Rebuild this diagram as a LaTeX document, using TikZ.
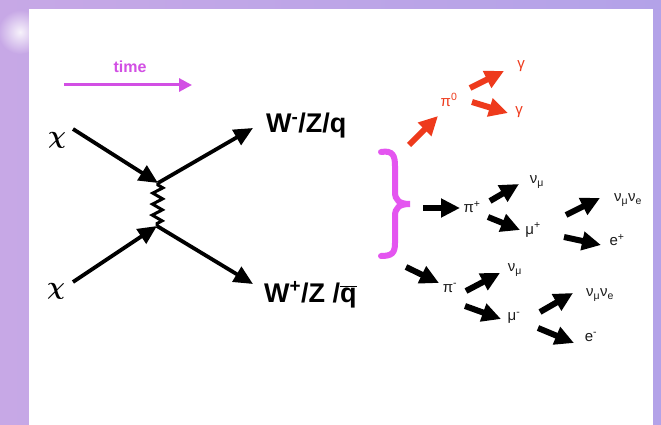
\documentclass[tikz,border=0pt]{standalone}
\usepackage{fontspec}
\setmainfont{Liberation Sans}
\usetikzlibrary{arrows.meta,decorations.pathmorphing}
\definecolor{bgl}{HTML}{C7A8E6}
\definecolor{bgr}{HTML}{B3A2E8}
\definecolor{timemag}{HTML}{D24FE4}
\definecolor{bracemag}{HTML}{E455F0}
\definecolor{redA}{HTML}{EE3A1C}
\definecolor{lab}{HTML}{1A1A1A}
\tikzset{
  mainarrow/.style={line width=3.8pt, -{Triangle[length=19pt,width=17pt]}},
  fatarrow/.style={line width=6pt, -{Triangle[length=19pt,width=18pt]}},
  redarrow/.style={fatarrow, draw=redA},
  wlabel/.style={font=\bfseries\fontsize{27}{27}\selectfont, inner sep=0pt},
  plabel/.style={font=\fontsize{15}{15}\selectfont, text=lab, inner sep=0pt},
  rlabel/.style={font=\fontsize{15}{15}\selectfont, text=redA, inner sep=0pt},
  chilabel/.style={font={\fontsize{40}{40}\selectfont\boldmath}, inner sep=0pt}
}
\begin{document}
\begin{tikzpicture}[x=1pt,y=-1pt]
\useasboundingbox (0,0) rectangle (661,425);
% background
\shade[left color=bgl, right color=bgr] (0,0) rectangle (661,425);
\shade[inner color=white!85!bgl, outer color=bgl] (20,32) circle (22);
\fill[white] (29,9) rectangle (653,425);

% time arrow
\node[font=\bfseries\fontsize{16}{16}\selectfont, text=timemag] (time) at (130,67) {time};
\coordinate (t1) at (64,85);
\coordinate (t2) at (192,85);
\draw[timemag, line width=3pt, -{Triangle[length=13pt,width=13pt]}] (t1) -- (t2);

% Feynman diagram
\node[chilabel] (chi1) at (57,140) {$\chi$};
\node[chilabel] (chi2) at (56,291) {$\chi$};
\coordinate (a1) at (73,129);
\coordinate (a2) at (73,282);
\coordinate (v1) at (158,183);
\coordinate (v2) at (157,226);
\coordinate (b1) at (253,128);
\coordinate (b2) at (253,284);
\draw[mainarrow] (a1) -- (v1);
\draw[mainarrow] (a2) -- (v2);
\draw[mainarrow] (v1) -- (b1);
\draw[mainarrow] (v2) -- (b2);
\draw[line width=3pt, decorate, decoration={zigzag, segment length=11pt, amplitude=5pt, pre length=2pt, post length=2pt}] (v1) -- (v2);
\node[wlabel, anchor=base west] (w1) at (266,133) {W\textsuperscript{-}/Z/q};
\node[wlabel, anchor=base west] (w2) at (264,302) {W\textsuperscript{+}/Z /$\overline{\hbox{q}}$};

% brace
\draw[bracemag, line width=6pt, line cap=round]
  (381,152) .. controls (393,150) and (395,156) .. (395,166) -- (395,192)
  .. controls (395,200) and (399,204) .. (410,204)
  .. controls (399,204) and (395,208) .. (395,216) -- (395,243)
  .. controls (395,253) and (392,256) .. (381,256);

% neutral pion branch
\coordinate (r1s) at (409,145);
\coordinate (r1e) at (438,116);
\node[rlabel] (pi0) at (449,100) {π\textsuperscript{0}};
\coordinate (r2s) at (470,88);
\coordinate (r2e) at (504,71);
\node[rlabel] (g1) at (521,66) {γ};
\coordinate (r3s) at (472,102);
\coordinate (r3e) at (508,113);
\node[rlabel] (g2) at (519,112) {γ};
\draw[redarrow] (r1s) -- (r1e);
\draw[redarrow] (r2s) -- (r2e);
\draw[redarrow] (r3s) -- (r3e);

% positive pion branch
\coordinate (A1s) at (423,208);
\coordinate (A1e) at (460,208);
\node[plabel] (pip) at (472,207) {π\textsuperscript{+}};
\coordinate (A2s) at (490,201);
\coordinate (A2e) at (519,184);
\node[plabel] (num1) at (537,182) {ν\textsubscript{μ}};
\coordinate (A3s) at (488,217);
\coordinate (A3e) at (520,230);
\node[plabel] (mup) at (533,230) {μ\textsuperscript{+}};
\coordinate (A4s) at (566,215);
\coordinate (A4e) at (600,198);
\node[plabel] (nn1) at (628,200) {ν\textsubscript{μ}ν\textsubscript{e}};
\coordinate (A5s) at (564,237);
\coordinate (A5e) at (601,245);
\node[plabel] (ep) at (617,240) {e\textsuperscript{+}};
\draw[fatarrow] (A1s) -- (A1e);
\draw[fatarrow] (A2s) -- (A2e);
\draw[fatarrow] (A3s) -- (A3e);
\draw[fatarrow] (A4s) -- (A4e);
\draw[fatarrow] (A5s) -- (A5e);

% negative pion branch
\coordinate (B1s) at (406,267);
\coordinate (B1e) at (439,283);
\node[plabel] (pim) at (450,288) {π\textsuperscript{-}};
\coordinate (B2s) at (466,291);
\coordinate (B2e) at (500,273);
\node[plabel] (num2) at (515,270) {ν\textsubscript{μ}};
\coordinate (B3s) at (465,306);
\coordinate (B3e) at (501,319);
\node[plabel] (mum) at (514,318) {μ\textsuperscript{-}};
\coordinate (B4s) at (540,312);
\coordinate (B4e) at (573,293);
\node[plabel] (nn2) at (600,295) {ν\textsubscript{μ}ν\textsubscript{e}};
\coordinate (B5s) at (538,328);
\coordinate (B5e) at (574,343);
\node[plabel] (em) at (591,337) {e\textsuperscript{-}};
\draw[fatarrow] (B1s) -- (B1e);
\draw[fatarrow] (B2s) -- (B2e);
\draw[fatarrow] (B3s) -- (B3e);
\draw[fatarrow] (B4s) -- (B4e);
\draw[fatarrow] (B5s) -- (B5e);
\end{tikzpicture}
\end{document}
